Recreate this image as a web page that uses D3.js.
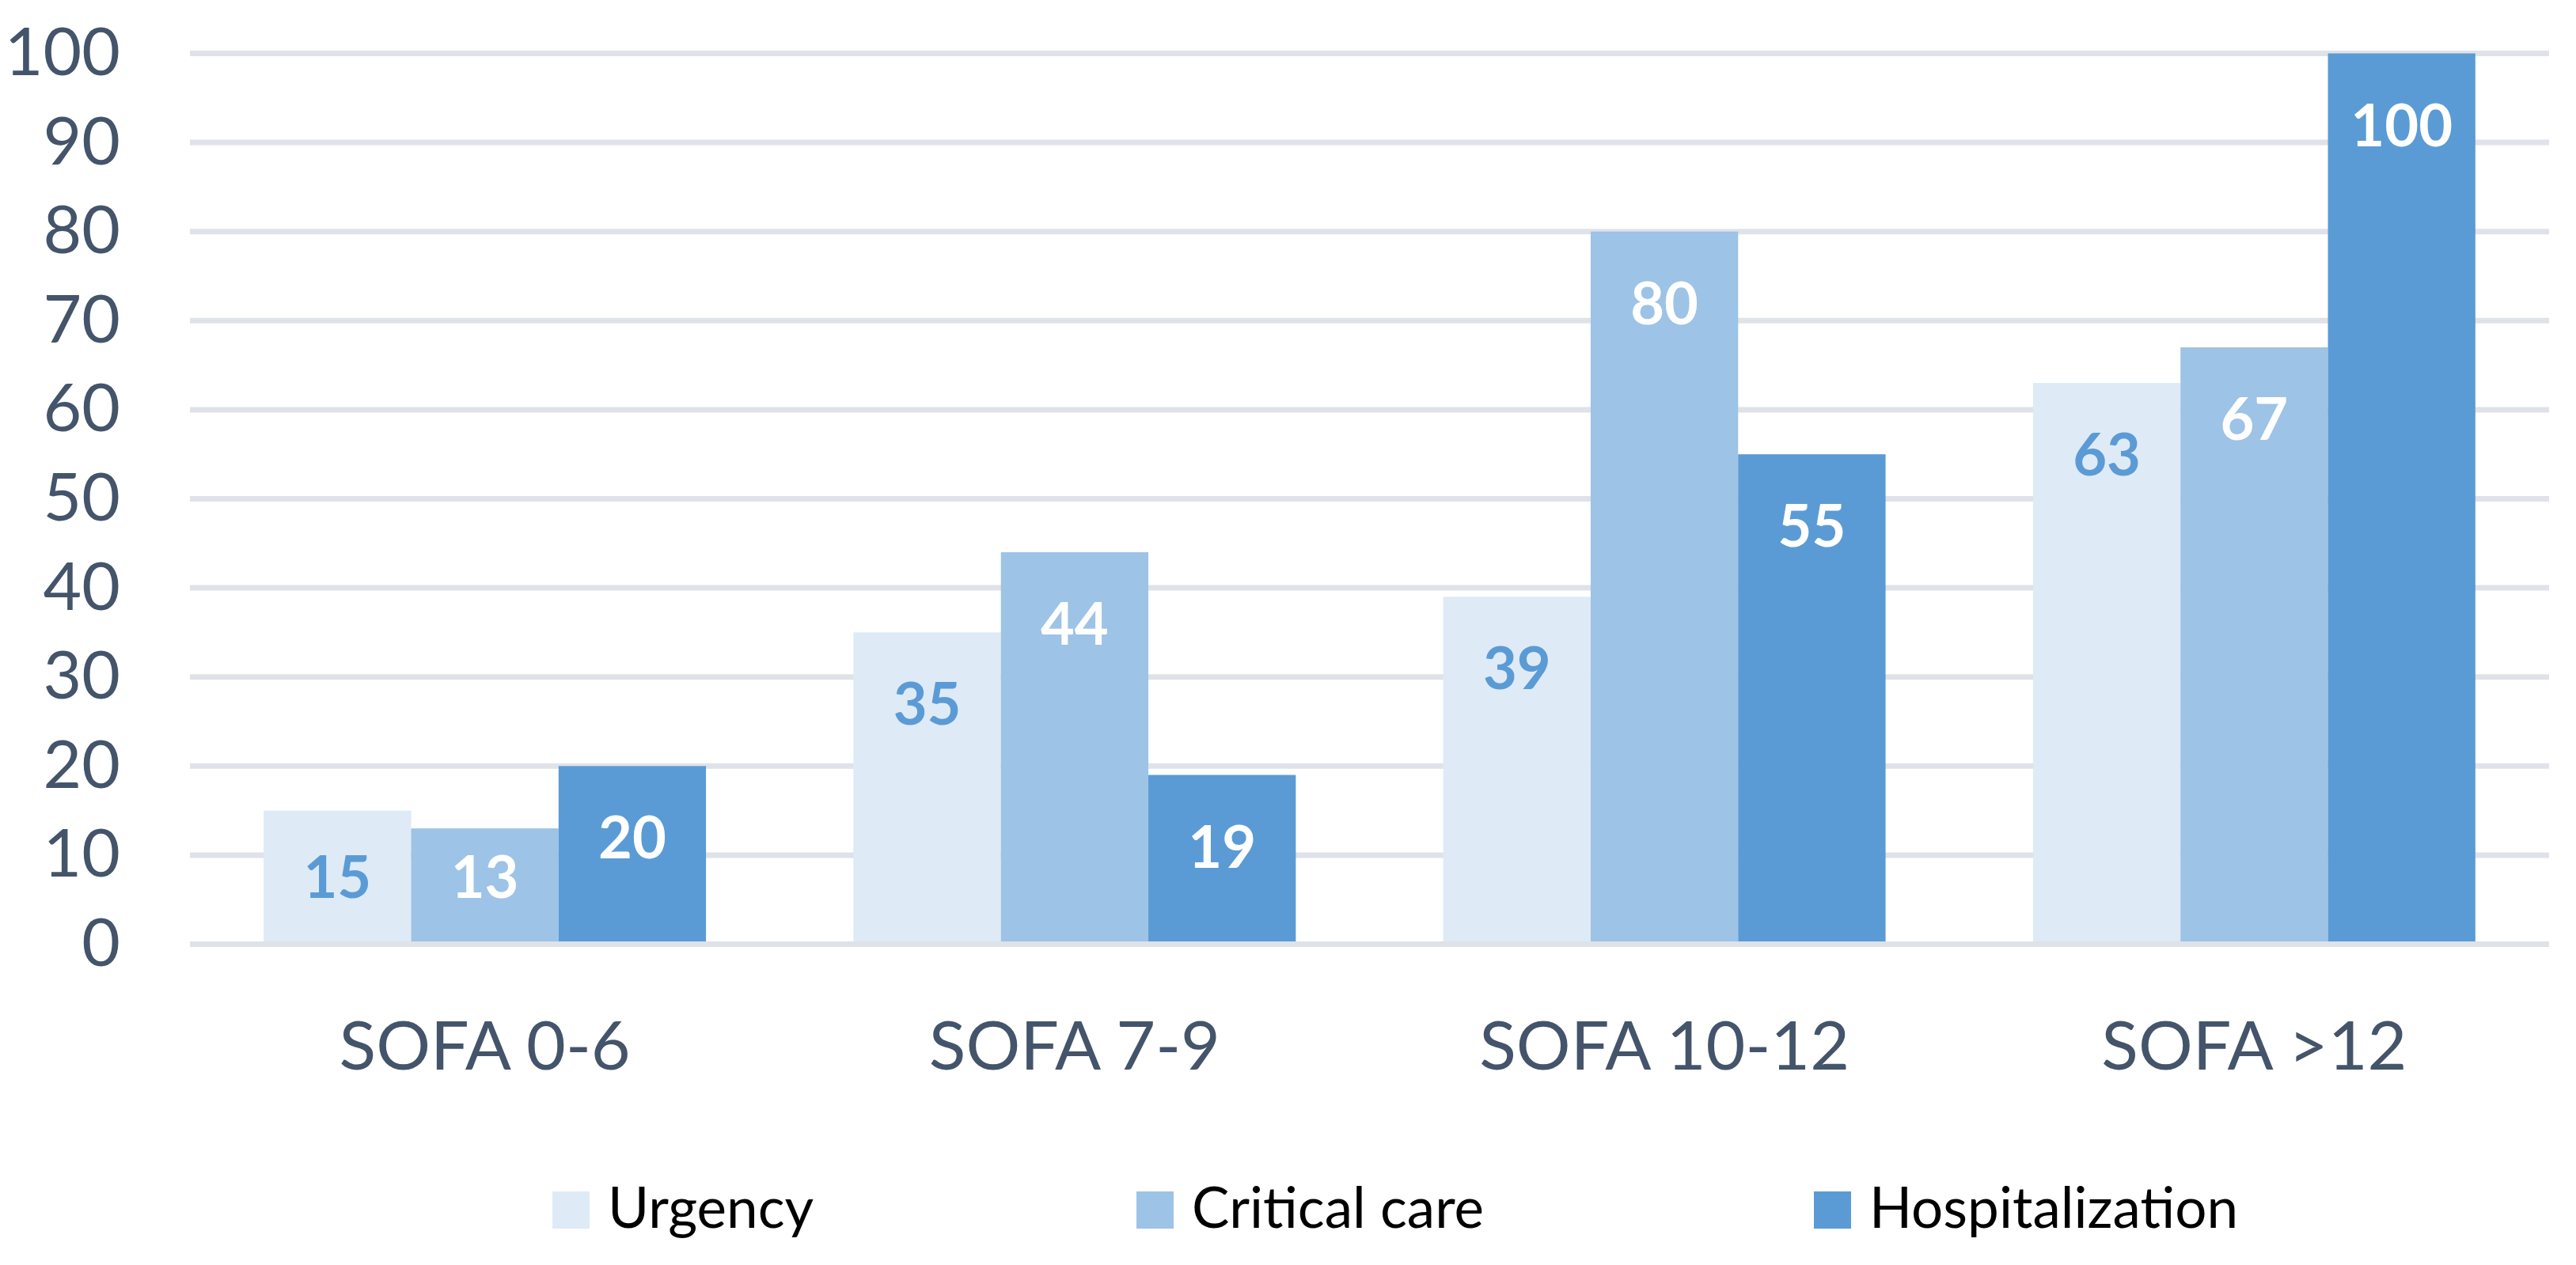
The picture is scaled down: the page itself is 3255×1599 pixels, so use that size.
<!DOCTYPE html>
<html>
<head>
<meta charset="utf-8">
<script src="https://cdn.jsdelivr.net/npm/d3@7"></script>
<style>
  body { margin: 0; background: #fff; }
  svg { display: block; }
</style>
</head>
<body>
<script>
var categories = ["SOFA 0-6", "SOFA 7-9", "SOFA 10-12", "SOFA >12"];
var seriesNames = ["Urgency", "Critical care", "Hospitalization"];
var urgency = [15, 35, 39, 63];
var criticalCare = [13, 44, 80, 67];
var hospitalization = [20, 19, 55, 100];
var yTicks = [0, 10, 20, 30, 40, 50, 60, 70, 80, 90, 100];

var colors = ["#DEEAF6", "#9DC3E6", "#5B9BD5"];
var labelColors = ["#5B9BD5", "#ffffff", "#ffffff"];
var axisText = "#44546A";
var gridColor = "#DFE2E9";

var width = 3255, height = 1599;
var plotLeft = 240, plotRight = 3221, plotTop = 67.5, plotBottom = 1193.5;
var legendX = [698, 1436, 2292];

var svg = d3.select("body").append("svg")
  .attr("width", width)
  .attr("height", height);

var rows = categories.map(function (c, i) {
  return { cat: c, values: [urgency[i], criticalCare[i], hospitalization[i]] };
});

var x0 = d3.scaleBand().domain(categories).range([plotLeft, plotRight])
  .paddingInner(0.25).paddingOuter(0.125);
var x1 = d3.scaleBand().domain(d3.range(seriesNames.length)).range([0, x0.bandwidth()]);
var y = d3.scaleLinear().domain([0, 100]).range([plotBottom, plotTop]);

// gridlines
svg.append("g").selectAll("line").data(yTicks).enter().append("line")
  .attr("x1", plotLeft).attr("x2", plotRight)
  .attr("y1", function (d) { return y(d); })
  .attr("y2", function (d) { return y(d); })
  .attr("stroke", gridColor)
  .attr("stroke-width", 7);

// y tick labels
var yAxis = svg.append("g")
  .attr("transform", "translate(152,0)")
  .call(d3.axisLeft(y).tickValues(yTicks).tickSize(0).tickPadding(0));
yAxis.select(".domain").remove();
yAxis.selectAll("text")
  .attr("dy", "27px")
  .attr("fill", axisText)
  .attr("font-family", "Lato, 'Open Sans', sans-serif")
  .attr("font-size", "84px");

// bars
var groups = svg.append("g").selectAll("g").data(rows).enter().append("g")
  .attr("transform", function (d) { return "translate(" + x0(d.cat) + ",0)"; });

groups.selectAll("rect").data(function (d) { return d.values; }).enter().append("rect")
  .attr("x", function (d, i) { return x1(i); })
  .attr("y", function (d) { return y(d); })
  .attr("width", x1.bandwidth())
  .attr("height", function (d) { return y(0) - 3.5 - y(d); })
  .attr("fill", function (d, i) { return colors[i]; });

groups.selectAll("text").data(function (d) { return d.values; }).enter().append("text")
  .attr("x", function (d, i) { return x1(i) + x1.bandwidth() / 2; })
  .attr("y", function (d) { return Math.min(y(d) + 117, y(0) - 59); })
  .attr("text-anchor", "middle")
  .attr("fill", function (d, i) { return labelColors[i]; })
  .attr("font-family", "Lato, 'Open Sans', sans-serif")
  .attr("font-weight", "bold")
  .attr("font-size", "74px")
  .text(function (d) { return d; });

// baseline
svg.append("line")
  .attr("x1", plotLeft).attr("x2", plotRight)
  .attr("y1", y(0)).attr("y2", y(0))
  .attr("stroke", gridColor)
  .attr("stroke-width", 7);

// x labels
var xAxis = svg.append("g")
  .attr("transform", "translate(0,1352)")
  .call(d3.axisBottom(x0).tickSize(0).tickPadding(0));
xAxis.select(".domain").remove();
xAxis.selectAll("text")
  .attr("dy", 0)
  .attr("y", 0)
  .attr("fill", axisText)
  .attr("font-family", "Lato, 'Open Sans', sans-serif")
  .attr("font-size", "86px");

// legend
var items = svg.append("g").selectAll("g").data(seriesNames).enter().append("g")
  .attr("transform", function (d, i) { return "translate(" + legendX[i] + ",0)"; });
items.append("rect")
  .attr("width", 47).attr("height", 47)
  .attr("y", 1506)
  .attr("fill", function (d, i) { return colors[i]; });
items.append("text")
  .attr("x", 70)
  .attr("y", 1552)
  .attr("fill", "#000")
  .attr("font-family", "Lato, 'Open Sans', sans-serif")
  .attr("font-size", "71px")
  .text(function (d) { return d; });
</script>
</body>
</html>
